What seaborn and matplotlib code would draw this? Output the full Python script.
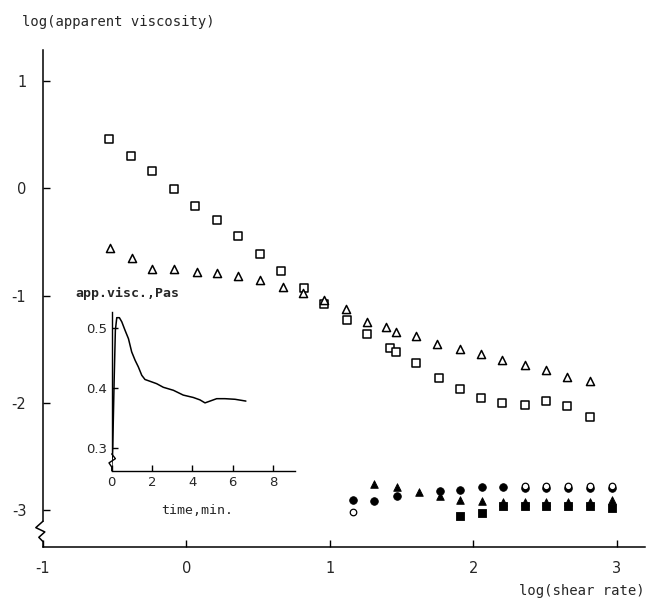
import matplotlib
matplotlib.use("Agg")
import matplotlib.pyplot as plt
import matplotlib.transforms as mtransforms
import seaborn as sns
import pandas as pd
import numpy as np

# main plot: log(shear rate) vs log(apparent viscosity)
sq_x = [-0.54, -0.39, -0.24, -0.09, 0.06, 0.21, 0.36, 0.51, 0.66, 0.82, 0.96, 1.12,
        1.26, 1.42, 1.46, 1.60, 1.76, 1.91, 2.05, 2.20, 2.36, 2.51, 2.65, 2.81]
sq_y = [0.46, 0.30, 0.16, -0.01, -0.17, -0.30, -0.45, -0.61, -0.77, -0.93, -1.08, -1.23,
        -1.36, -1.49, -1.53, -1.63, -1.77, -1.87, -1.95, -2.00, -2.02, -1.98, -2.03, -2.13]

tri_x = [-0.53, -0.38, -0.24, -0.09, 0.07, 0.21, 0.36, 0.51, 0.67, 0.81, 0.96, 1.11,
         1.26, 1.39, 1.46, 1.60, 1.75, 1.91, 2.05, 2.20, 2.36, 2.51, 2.65, 2.81]
tri_y = [-0.56, -0.65, -0.75, -0.75, -0.78, -0.79, -0.82, -0.86, -0.92, -0.98, -1.04, -1.13,
         -1.25, -1.29, -1.34, -1.38, -1.45, -1.50, -1.54, -1.60, -1.65, -1.69, -1.76, -1.80]

fcirc_x = [1.16, 1.31, 1.47, 1.77, 1.91, 2.06, 2.21, 2.36, 2.51, 2.66, 2.81, 2.97]
fcirc_y = [-2.90, -2.91, -2.87, -2.82, -2.81, -2.78, -2.78, -2.79, -2.79, -2.79, -2.79, -2.79]

ocirc_x = [1.16, 2.36, 2.51, 2.66, 2.81, 2.97]
ocirc_y = [-3.01, -2.77, -2.77, -2.77, -2.77, -2.77]

ftri_x = [1.31, 1.47, 1.62, 1.77, 1.91, 2.06, 2.21, 2.36, 2.51, 2.66, 2.81, 2.97]
ftri_y = [-2.75, -2.78, -2.83, -2.87, -2.90, -2.91, -2.92, -2.92, -2.92, -2.92, -2.92, -2.90]

fsq_x = [1.91, 2.06, 2.21, 2.36, 2.51, 2.66, 2.81, 2.97]
fsq_y = [-3.05, -3.02, -2.96, -2.96, -2.96, -2.96, -2.96, -2.98]

main_ticks = [-1, 0, 1, 2, 3]
main_yticks = [1, 0, -1, -2, -3]

# inset: apparent viscosity vs time
t_min = [0.0, 0.05, 0.12, 0.18, 0.25, 0.38, 0.50, 0.66, 0.83, 0.99, 1.16, 1.32, 1.49,
         1.65, 1.90, 2.23, 2.56, 3.06, 3.55, 4.05, 4.38, 4.63, 4.88, 5.21, 5.62, 6.12, 6.66]
visc = [0.268, 0.302, 0.413, 0.496, 0.517, 0.517, 0.510, 0.496, 0.482, 0.460, 0.446, 0.435,
        0.421, 0.414, 0.411, 0.407, 0.401, 0.396, 0.388, 0.384, 0.380, 0.375, 0.378, 0.382,
        0.382, 0.381, 0.378]
inset_xticks = [0, 2, 4, 6, 8]
inset_yticks = [0.3, 0.4, 0.5]

sns.set_style("ticks")
plt.rcParams['font.family'] = ['DejaVu Sans']
plt.rcParams['xtick.direction'] = 'in'
plt.rcParams['ytick.direction'] = 'in'

fig = plt.figure(figsize=(6.47, 5.98), dpi=100)
ax = fig.add_axes([0.0665, 0.0853, 0.930, 0.831])

open_kw = dict(facecolor='white', edgecolor='black', linewidth=1.1, s=34, zorder=3)
filled_kw = dict(color='black', edgecolor='black', linewidth=0.6, s=30, zorder=3)

sns.scatterplot(x=sq_x, y=sq_y, marker='s', ax=ax, **open_kw)
sns.scatterplot(x=tri_x, y=tri_y, marker='^', ax=ax, **open_kw)
sns.scatterplot(x=fsq_x, y=fsq_y, marker='s', ax=ax, **filled_kw)
sns.scatterplot(x=ftri_x, y=ftri_y, marker='^', ax=ax, **filled_kw)
sns.scatterplot(x=fcirc_x, y=fcirc_y, marker='o', ax=ax, **filled_kw)
sns.scatterplot(x=ocirc_x, y=ocirc_y, marker='o', ax=ax,
                facecolor='white', edgecolor='black', linewidth=0.9, s=22, zorder=4)

ax.set_xlim(-1, 3.195)
ax.set_ylim(-3.34, 1.284)
ax.set_xticks(main_ticks)
ax.set_xticklabels([str(v) for v in main_ticks])
ax.set_yticks(main_yticks)
ax.set_yticklabels([str(v) for v in main_yticks])
ax.tick_params(axis='both', length=5, width=1, labelsize=10.5, color='black')
ax.tick_params(axis='y', pad=12)
ax.tick_params(axis='x', pad=10)
ax.set_xlabel('')
ax.set_ylabel('')
sns.despine(ax=ax)
for s in ['left', 'bottom']:
    ax.spines[s].set_linewidth(1.1)
    ax.spines[s].set_color('black')

# axis break on the y axis
ax.spines['left'].set_bounds(-3.1, 1.284)
tr = mtransforms.blended_transform_factory(ax.transAxes, ax.transData)
ax.plot([0, -0.012, 0.003, -0.007, 0, 0], [-3.1, -3.16, -3.2, -3.25, -3.29, -3.34],
        color='black', lw=1.1, transform=tr, clip_on=False)

fig.text(22 / 647, 1 - 22 / 598, 'log(apparent viscosity)', family='DejaVu Sans Mono',
         fontsize=10, va='center', ha='left')
fig.text(645 / 647, 1 - 591 / 598, 'log(shear rate)', family='DejaVu Sans Mono',
         fontsize=10, va='center', ha='right')

# inset
axi = fig.add_axes([0.1727, 0.2129, 0.2833, 0.2659])
axi.set_facecolor('white')
df = pd.DataFrame({'t': t_min, 'v': visc})
sns.lineplot(data=df, x='t', y='v', ax=axi, color='black', lw=1.1,
             sort=False, estimator=None)
axi.set_xlim(0, 9.1)
axi.set_ylim(0.262, 0.527)
axi.set_xticks(inset_xticks)
axi.set_xticklabels([str(v) for v in inset_xticks])
axi.set_yticks(inset_yticks)
axi.set_yticklabels([f'{v:.1f}' for v in inset_yticks])
axi.tick_params(axis='both', length=4, width=1, labelsize=9.5, color='black')
axi.set_xlabel('')
axi.set_ylabel('')
sns.despine(ax=axi)
for s in ['left', 'bottom']:
    axi.spines[s].set_linewidth(1.0)
    axi.spines[s].set_color('black')
axi.spines['left'].set_bounds(0.29, 0.527)
tri = mtransforms.blended_transform_factory(axi.transAxes, axi.transData)
axi.plot([0, 0.02, -0.015, 0.0, 0.0], [0.29, 0.282, 0.275, 0.268, 0.262],
         color='black', lw=1.0, transform=tri, clip_on=False)

fig.text(75 / 647, 1 - 293 / 598, 'app.visc.,Pas', family='DejaVu Sans Mono',
         fontsize=9.5, va='center', ha='left', fontweight='bold')
fig.text(197 / 647, 1 - 511 / 598, 'time,min.', family='DejaVu Sans Mono',
         fontsize=9.5, va='center', ha='center')

fig.savefig('out.png', dpi=100)
